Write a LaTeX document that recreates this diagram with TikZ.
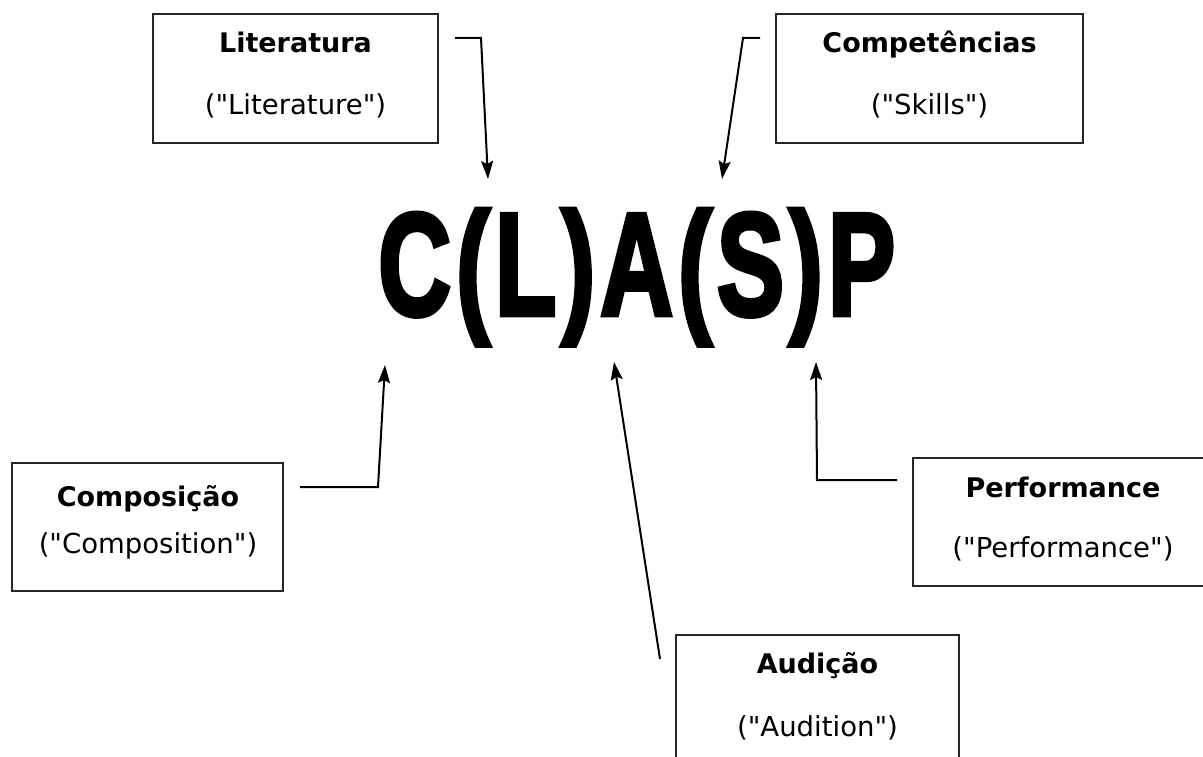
\documentclass[tikz,border=0pt]{standalone}
\usepackage{fontspec}
\setmainfont{DejaVu Sans}
\newfontfamily\bigfont[FakeBold=3.5,LetterSpace=5]{Liberation Sans}
\usetikzlibrary{arrows.meta}
\tikzset{
  box/.style={draw=black!85, line width=2pt, inner sep=0pt},
  bt/.style={font=\fontsize{27pt}{30pt}\selectfont\bfseries, anchor=base, inner sep=0pt},
  rt/.style={font=\fontsize{27.5pt}{30pt}\selectfont, anchor=base, inner sep=0pt},
  arr/.style={draw=black, line width=2pt, -{Stealth[length=18pt,width=12pt,inset=3pt]}},
}
\begin{document}
\begin{tikzpicture}[x=1pt,y=-1pt]
\clip (0,0) rectangle (1203,757);
\fill[white] (0,0) rectangle (1203,757);
% big text
\node[inner sep=0pt, anchor=north west] (clasp) at (378,209)
  {\resizebox*{517pt}{136pt}{\fontsize{100pt}{100pt}\bigfont\bfseries C(L)A(S)P}};
% boxes
\node[box, minimum width=285pt, minimum height=129pt] (lit) at (295.5,78.5) {};
\node[box, minimum width=307pt, minimum height=129pt] (comp) at (929.5,78.5) {};
\node[box, minimum width=271pt, minimum height=128pt] (cmp) at (147.5,527) {};
\node[box, minimum width=300pt, minimum height=128pt] (perf) at (1063,522) {};
\node[box, minimum width=283pt, minimum height=160pt] (aud) at (817.5,715) {};
% texts
\node[bt] (litA) at (295.5,53) {Literatura};
\node[rt] (litB) at (295.5,115) {(\textquotedbl Literature\textquotedbl)};
\node[bt] (compA) at (929.5,53) {Competências};
\node[rt] (compB) at (929.5,115) {(\textquotedbl Skills\textquotedbl)};
\node[bt] (cmpA) at (148,506) {Composição};
\node[rt] (cmpB) at (148,553) {(\textquotedbl Composition\textquotedbl)};
\node[bt] (perfA) at (1063,497) {Performance};
\node[rt] (perfB) at (1063,557) {(\textquotedbl Performance\textquotedbl)};
\node[bt] (audA) at (817.5,673) {Audição};
\node[rt] (audB) at (817.5,736) {(\textquotedbl Audition\textquotedbl)};
% connector ends
\coordinate (s1) at (455,38);
\coordinate (t1) at (488,179);
\coordinate (s2) at (760,38);
\coordinate (t2) at (722,179);
\coordinate (s3) at (300,487);
\coordinate (t3) at (385,365);
\coordinate (s4) at (660,659);
\coordinate (t4) at (614,362);
\coordinate (s5) at (897,480);
\coordinate (t5) at (816,362);
% connectors
\draw[arr] (s1) -- (481,38) -- (t1);
\draw[arr] (s2) -- (743,38) -- (t2);
\draw[arr] (s3) -- (378,487) -- (t3);
\draw[arr] (s4) -- (t4);
\draw[arr] (s5) -- (817,480) -- (t5);
\end{tikzpicture}
\end{document}
